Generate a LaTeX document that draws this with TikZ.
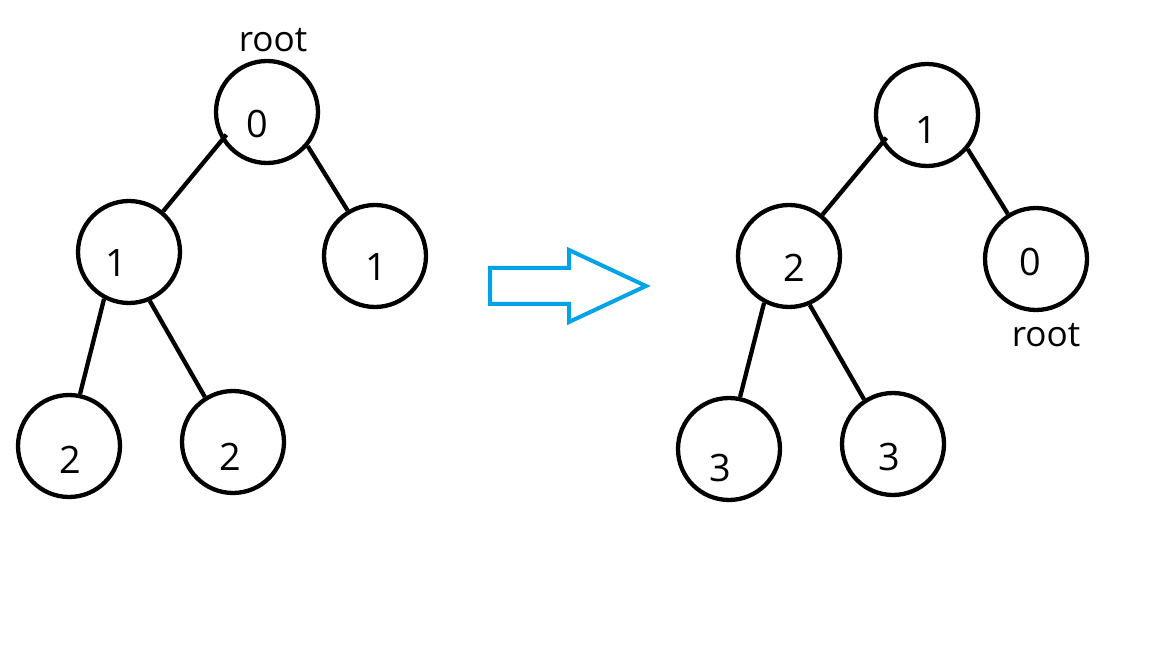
\documentclass[tikz,border=0pt]{standalone}
\usepackage{fontspec}
\setmainfont{Open Sans}
\usepackage{xcolor}
\usetikzlibrary{calc}
\definecolor{arrowblue}{RGB}{0,162,232}

\begin{document}
\begin{tikzpicture}[x=0.02cm,y=-0.02cm,
        vert/.style={draw,circle,line width=0.086cm,minimum size=2.04cm,inner sep=0pt},
        num/.style={font=\fontsize{21.5}{26}\selectfont,inner sep=0pt},
        lab/.style={font=\fontsize{20}{24}\selectfont,inner sep=0pt},
        edge/.style={line width=0.086cm}]
        \useasboundingbox (0,0) rectangle (1152,648);

        % Circles of both trees
        \foreach \n/\x/\y in {
            a0/267/112, a1/129/252, a2/375/256, a3/69/446, a4/233/442,
            b0/927/115, b1/789/256, b2/1036/259, b3/729/449, b4/893/444
        } {
            \node[vert] (\n) at (\x,\y) {};
        }

        % Numbers, a bit off the centre
        \foreach \n/\dx/\dy/\t in {
            a0/-10/12/0, a1/-13/11/1, a2/1/11/1, a3/1/14/2, a4/-3/15/2,
            b0/-1/15/1, b1/5/12/2, b2/-6/3/0, b3/-9/19/3, b4/-4/13/3
        } {
            \node[num] (\n-t) at ($(\n.center)+(\dx,\dy)$) {\t};
        }

        % Edges
        \draw[edge,shorten <=-0.14cm] (a0.212) -- (a1.50);
        \draw[edge,shorten <=-0.14cm] (b0.212) -- (b1.51);
        \foreach \p/\q/\s/\e in {
            a0/a2/320/121, a1/a3/242/78, a1/a4/293/122,
            b0/b2/320/122, b1/b3/242/78, b1/b4/293/123
        } {
            \draw[edge] (\p.\s) -- (\q.\e);
        }

        % root labels
        \node[lab] (roota) at (273,40) {root};
        \node[lab] (rootb) at (1046,335) {root};

        % Big hollow arrow
        \draw[arrowblue,line width=0.08cm,line join=miter]
            (490,268) -- (569,268) -- (569,250) -- (646,286)
            -- (569,322) -- (569,304) -- (490,304) -- cycle;
    \end{tikzpicture}
\end{document}
